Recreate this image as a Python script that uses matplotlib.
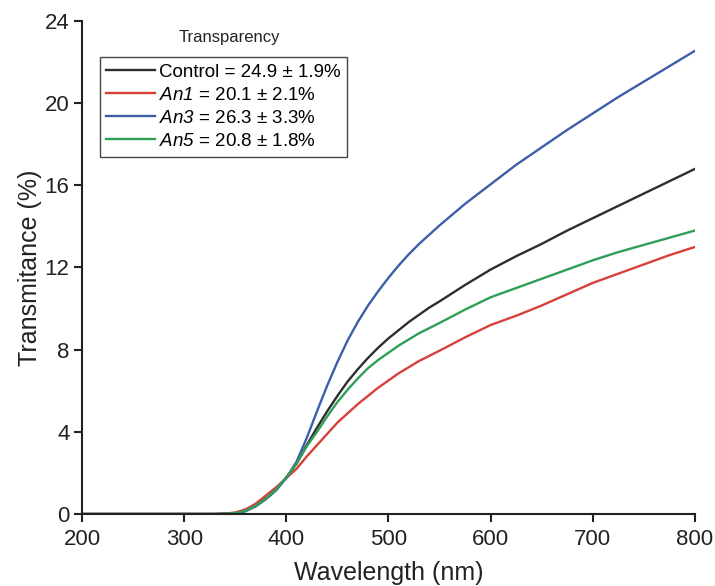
import matplotlib
matplotlib.use("Agg")
import matplotlib.pyplot as plt

wavelength = [200, 330, 340, 350, 360, 370, 380, 390, 400, 410, 420, 430, 440, 450,
              460, 470, 480, 490, 500, 510, 520, 530, 540, 550, 575, 600, 625, 650, 675, 700,
              725, 750, 775, 800]

control = [0, 0, 0.01, 0.04, 0.15, 0.4, 0.75, 1.2, 1.78, 2.45, 3.35, 4.2, 5.0, 5.75,
           6.45, 7.05, 7.6, 8.1, 8.55, 8.95, 9.35, 9.7, 10.05, 10.35, 11.15, 11.9, 12.55, 13.15, 13.8, 14.4,
           15.0, 15.6, 16.2, 16.8]
an1 = [0, 0, 0.02, 0.07, 0.22, 0.5, 0.9, 1.3, 1.75, 2.2, 2.8, 3.35, 3.9, 4.45,
       4.9, 5.35, 5.75, 6.15, 6.5, 6.85, 7.15, 7.45, 7.7, 7.95, 8.6, 9.2, 9.65, 10.15, 10.7, 11.25,
       11.7, 12.15, 12.6, 13.0]
an3 = [0, 0, 0.01, 0.04, 0.13, 0.37, 0.72, 1.15, 1.75, 2.55, 3.7, 5.0, 6.25, 7.4,
       8.45, 9.35, 10.15, 10.85, 11.5, 12.1, 12.65, 13.15, 13.6, 14.05, 15.1, 16.05, 17.0, 17.85, 18.7, 19.5,
       20.3, 21.05, 21.8, 22.55]
an5 = [0, 0, 0.01, 0.04, 0.15, 0.4, 0.75, 1.2, 1.78, 2.45, 3.3, 4.0, 4.75, 5.45,
       6.05, 6.6, 7.1, 7.5, 7.85, 8.2, 8.5, 8.8, 9.05, 9.3, 9.95, 10.55, 11.0, 11.45, 11.9, 12.35,
       12.75, 13.1, 13.45, 13.8]

labels = [r"Control = 24.9 ± 1.9%",
          r"$An1$ = 20.1 ± 2.1%",
          r"$An3$ = 26.3 ± 3.3%",
          r"$An5$ = 20.8 ± 1.8%"]
colors = ["#2e2e2e", "#d8403a", "#3d5ea8", "#2f9e57"]
x_ticks = [200, 300, 400, 500, 600, 700, 800]
y_ticks = [0, 4, 8, 12, 16, 20, 24]

plt.rcParams['font.family'] = ['Liberation Sans', 'DejaVu Sans']
plt.rcParams['mathtext.fontset'] = 'custom'
plt.rcParams['mathtext.rm'] = 'Liberation Sans:italic'
plt.rcParams['mathtext.it'] = 'Liberation Sans:italic'

fig = plt.figure(figsize=(7.15, 5.86), dpi=100)
ax = fig.add_axes([0.1147, 0.1229, 0.8573, 0.8413])

for series, lab, col in zip([control, an1, an3, an5], labels, colors):
    ax.plot(wavelength, series, color=col, lw=1.7, label=lab)

ax.set_xlim(200, 800)
ax.set_ylim(0, 24)
ax.set_xticks(x_ticks)
ax.set_yticks(y_ticks)
ax.tick_params(axis='both', direction='out', length=6, width=1.5, labelsize=16,
               colors='#222222')
ax.tick_params(axis='x', pad=5)
ax.tick_params(axis='y', pad=3)
for s in ['top', 'right']:
    ax.spines[s].set_visible(False)
for s in ['left', 'bottom']:
    ax.spines[s].set_linewidth(1.5)
    ax.spines[s].set_color('#222222')

ax.set_xlabel("Wavelength (nm)", fontsize=18, color='#222222', labelpad=8)
ax.set_ylabel("Transmitance (%)", fontsize=18, color='#222222', labelpad=2)

leg = ax.legend(loc='upper left', bbox_to_anchor=(0.029, 0.927), fontsize=13.5,
                frameon=True, fancybox=False, edgecolor='#444444', framealpha=1,
                handlelength=2.6, handletextpad=0.2, borderpad=0.35, labelspacing=0.32,
                borderaxespad=0)
leg.get_frame().set_linewidth(1.0)
ax.text(0.24, 0.9655, "Transparency", transform=ax.transAxes, fontsize=12,
        ha='center', va='center', color='#222222')

fig.savefig("out.png", dpi=100)
